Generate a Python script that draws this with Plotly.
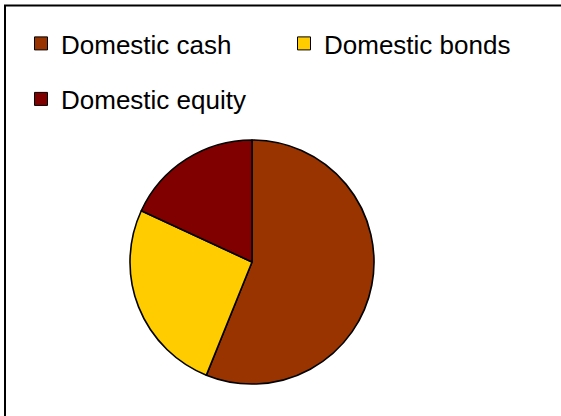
import plotly.graph_objects as go

labels = ["Domestic cash", "Domestic bonds", "Domestic equity"]
values = [56.1, 25.8, 18.1]
colors = ["#993300", "#FFCC00", "#800000"]

W, H = 561, 416
FONT = "Arial, Liberation Sans, sans-serif"

fig = go.Figure()
fig.add_trace(go.Pie(
    labels=labels, values=values, sort=False, direction="clockwise", rotation=0,
    marker=dict(colors=colors, line=dict(color="black", width=1.6)),
    textinfo="none", hoverinfo="label+percent", showlegend=False,
    domain=dict(x=[130 / W, 374 / W], y=[(H - 384) / H, (H - 140) / H]),
))

# legend entries (one per slice), placed in their own legends
legend_pos = [(21, 20), (284, 20), (21, 75.5)]
legend_names = ["legend", "legend2", "legend3"]
for lab, col, ln in zip(labels, colors, legend_names):
    fig.add_trace(go.Scatter(
        x=[None], y=[None], mode="markers", name=lab, legend=ln,
        marker=dict(symbol="square", size=13, color=col, line=dict(color="black", width=1)),
        hoverinfo="skip",
    ))

layout_legends = {}
for ln, (px, py) in zip(legend_names, legend_pos):
    layout_legends[ln] = dict(
        x=px / W, y=1 - py / H, xanchor="left", yanchor="top",
        font=dict(family=FONT, size=26, color="black"),
        bgcolor="rgba(0,0,0,0)", borderwidth=0, itemwidth=30,
    )

fig.update_layout(
    width=W, height=H, margin=dict(l=0, r=0, t=0, b=0),
    paper_bgcolor="white", plot_bgcolor="white",
    xaxis=dict(visible=False), yaxis=dict(visible=False),
    shapes=[dict(type="rect", xref="paper", yref="paper",
                 x0=5 / W, x1=1.05, y0=-0.05, y1=1 - 5.5 / H,
                 line=dict(color="black", width=2), fillcolor="rgba(0,0,0,0)")],
    **layout_legends,
)

fig.write_html(
    "out.html",
    config={"displayModeBar": False},
    post_script="document.body.style.margin='0';document.body.style.overflow='hidden';",
)
